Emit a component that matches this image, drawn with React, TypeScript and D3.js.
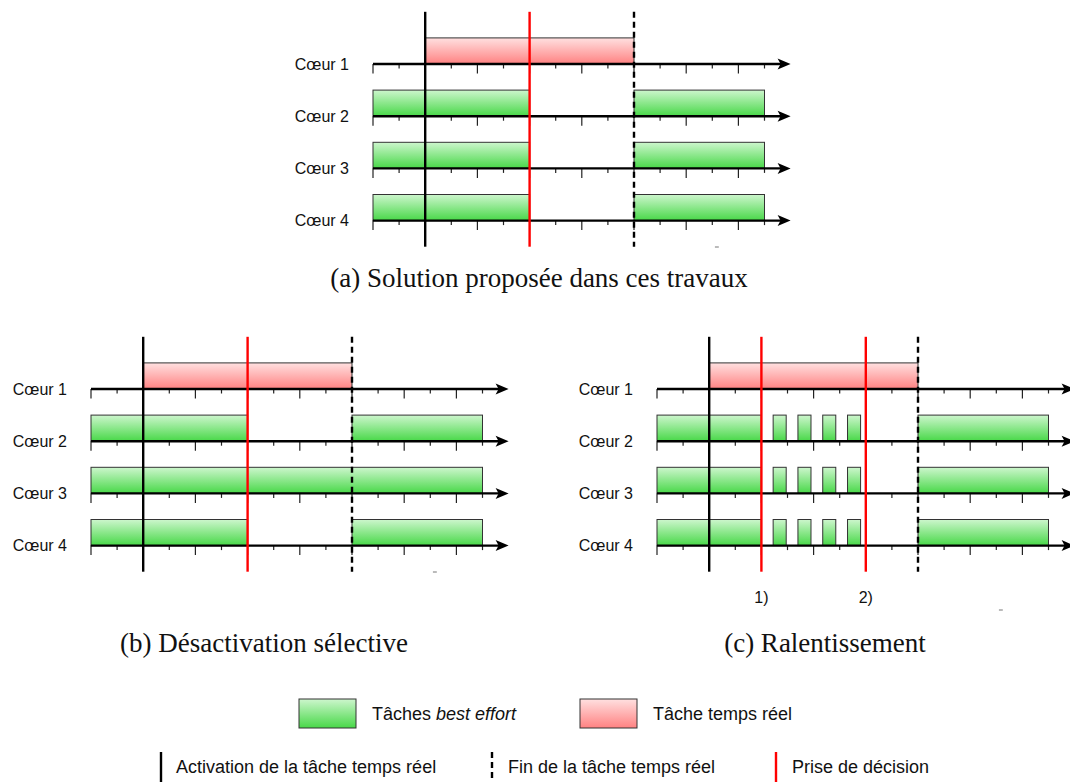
import * as d3 from "d3";

// cores (rows) and time ticks
const cores = ["Cœur 1", "Cœur 2", "Cœur 3", "Cœur 4"];
const ticks = d3.range(0, 16);
const activation = 2;
const taskEnd = 10;

// real-time task (same in all three panels)
const rtTask = { core: "Cœur 1", start: 2, end: 10 };

// best-effort tasks per panel: [core, start, end]
const beA: [string, number, number][] = [
  ["Cœur 2", 0, 6], ["Cœur 2", 10, 15],
  ["Cœur 3", 0, 6], ["Cœur 3", 10, 15],
  ["Cœur 4", 0, 6], ["Cœur 4", 10, 15],
];
const beB: [string, number, number][] = [
  ["Cœur 2", 0, 6], ["Cœur 2", 10, 15],
  ["Cœur 3", 0, 15],
  ["Cœur 4", 0, 6], ["Cœur 4", 10, 15],
];
const slowSlots = [4.45, 5.4, 6.35, 7.3];
const beC: [string, number, number][] = ["Cœur 2", "Cœur 3", "Cœur 4"].flatMap((c) => [
  [c, 0, 4] as [string, number, number],
  ...slowSlots.map((s) => [c, s, s + 0.5] as [string, number, number]),
  [c, 10, 15] as [string, number, number],
]);

const decisionsA = [6];
const decisionsB = [6];
const decisionsC = [4, 8];
const decisionLabelsC = ["1)", "2)"];

const UNIT = 26.1;
const SANS = "'Liberation Sans', Arial, sans-serif";
const SERIF = "'Liberation Serif', 'Times New Roman', serif";

function Panel({ x0, y0, be, decisions, decisionLabels, caption, capX, capY, markY }: {
  x0: number; y0: number; be: [string, number, number][]; decisions: number[];
  decisionLabels?: string[]; caption: string; capX: number; capY: number; markY: number;
}) {
  const x = d3.scaleLinear().domain([0, 16]).range([x0, x0 + 16 * UNIT]);
  const y = d3.scalePoint<string>().domain(cores).range([y0, y0 + 6 * UNIT]);
  const top = y0 - 2 * UNIT;
  const bottom = y0 + 7 * UNIT;
  const arrowX = x(16);
  return (
    <g>
      {cores.map((c) => (
        <g key={c}>
          <text x={x0 - 24} y={y(c)! + 5.5} textAnchor="end" fontFamily={SANS} fontSize={16} fill="#111">{c}</text>
          {ticks.map((t) => (
            <line key={t} x1={x(t)} x2={x(t)} y1={y(c)!} y2={y(c)! + (t % 2 === 0 ? 9.5 : 4.5)} stroke="#222" strokeWidth={1.2} />
          ))}
        </g>
      ))}
      {be.map(([c, s, e], i) => (
        <rect key={i} x={x(s)} y={y(c)! - UNIT} width={x(e) - x(s)} height={UNIT} fill="url(#gGreen)" stroke="#333" strokeWidth={1} />
      ))}
      <rect x={x(rtTask.start)} y={y(rtTask.core)! - UNIT} width={x(rtTask.end) - x(rtTask.start)} height={UNIT} fill="url(#gRed)" stroke="#333" strokeWidth={1} />
      {cores.map((c) => (
        <g key={c}>
          <line x1={x0} x2={arrowX - 6} y1={y(c)!} y2={y(c)!} stroke="#000" strokeWidth={2.4} />
          <path d={`M${arrowX},${y(c)} L${arrowX - 13},${y(c)! - 5.5} L${arrowX - 10},${y(c)} L${arrowX - 13},${y(c)! + 5.5} Z`} fill="#000" />
        </g>
      ))}
      <line x1={x(activation)} x2={x(activation)} y1={top} y2={bottom} stroke="#000" strokeWidth={2.4} />
      <line x1={x(taskEnd)} x2={x(taskEnd)} y1={top} y2={bottom} stroke="#000" strokeWidth={2.4} strokeDasharray="6,4" />
      {decisions.map((d, i) => (
        <g key={i}>
          <line x1={x(d)} x2={x(d)} y1={top} y2={bottom} stroke="#ff0000" strokeWidth={2.4} />
          {decisionLabels && (
            <text x={x(d)} y={bottom + 31} textAnchor="middle" fontFamily={SANS} fontSize={16} fill="#111">{decisionLabels[i]}</text>
          )}
        </g>
      ))}
      <line x1={x(13.1)} x2={x(13.25)} y1={markY} y2={markY} stroke="#777" strokeWidth={1} />
      <text x={capX} y={capY} textAnchor="middle" fontFamily={SERIF} fontSize={27} fill="#111">{caption}</text>
    </g>
  );
}

export default function App() {
  return (
    <svg width={1070} height={782} style={{ position: "absolute", left: 0, top: 0, background: "#fff" }}>
      <defs>
        <linearGradient id="gGreen" x1="0" y1="0" x2="0" y2="1">
          <stop offset="0" stopColor="#cdf6cd" />
          <stop offset="1" stopColor="#48d848" />
        </linearGradient>
        <linearGradient id="gRed" x1="0" y1="0" x2="0" y2="1">
          <stop offset="0" stopColor="#ffe0e0" />
          <stop offset="1" stopColor="#ff8282" />
        </linearGradient>
      </defs>
      <Panel x0={373} y0={64} be={beA} decisions={decisionsA} caption="(a) Solution proposée dans ces travaux" capX={539} capY={287} markY={247} />
      <Panel x0={91} y0={389} be={beB} decisions={decisionsB} caption="(b) Désactivation sélective" capX={264} capY={652} markY={572} />
      <Panel x0={657} y0={389} be={beC} decisions={decisionsC} decisionLabels={decisionLabelsC} caption="(c) Ralentissement" capX={825} capY={652} markY={610} />

      {/* legend */}
      <rect x={299} y={699} width={57} height={29} fill="url(#gGreen)" stroke="#333" strokeWidth={1} />
      <text x={372} y={720} fontFamily={SANS} fontSize={18} fill="#111">
        Tâches <tspan fontStyle="italic">best effort</tspan>
      </text>
      <rect x={580} y={699} width={57} height={29} fill="url(#gRed)" stroke="#333" strokeWidth={1} />
      <text x={653} y={720} fontFamily={SANS} fontSize={18} fill="#111">Tâche temps réel</text>

      <line x1={161} x2={161} y1={752} y2={782} stroke="#000" strokeWidth={2.4} />
      <text x={176} y={773} fontFamily={SANS} fontSize={18} fill="#111">Activation de la tâche temps réel</text>
      <line x1={492} x2={492} y1={752} y2={782} stroke="#000" strokeWidth={2.4} strokeDasharray="6,4" />
      <text x={508} y={773} fontFamily={SANS} fontSize={18} fill="#111">Fin de la tâche temps réel</text>
      <line x1={776} x2={776} y1={752} y2={782} stroke="#ff0000" strokeWidth={2.4} />
      <text x={792} y={773} fontFamily={SANS} fontSize={18} fill="#111">Prise de décision</text>
    </svg>
  );
}
